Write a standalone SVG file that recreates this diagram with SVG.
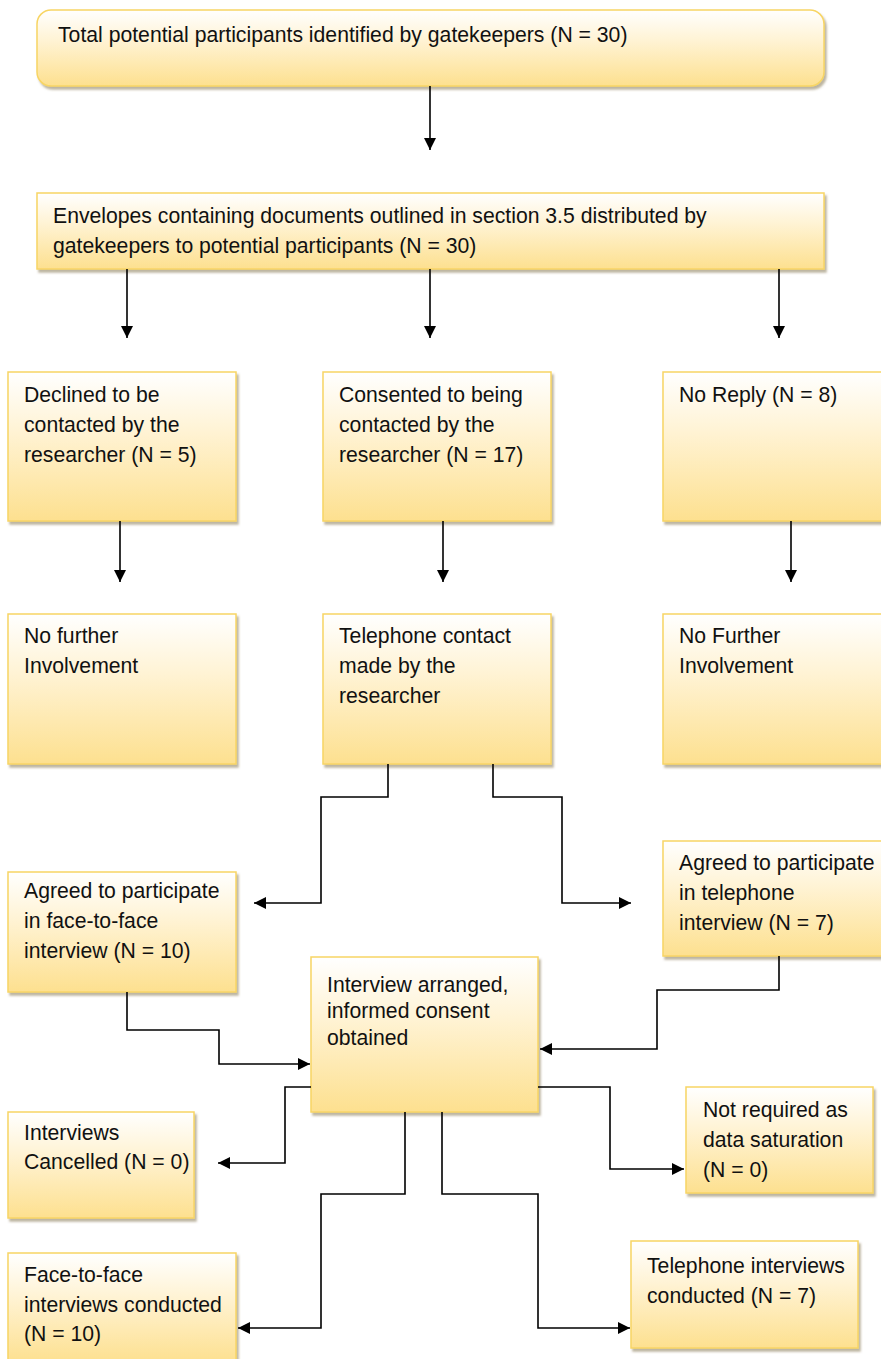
<svg xmlns="http://www.w3.org/2000/svg" width="881" height="1359" viewBox="0 0 881 1359">
<defs>
<linearGradient id="g" x1="0" y1="0" x2="0" y2="1">
<stop offset="0" stop-color="#ffffff"/>
<stop offset="0.4" stop-color="#fff3d4"/>
<stop offset="1" stop-color="#fde08f"/>
</linearGradient>
<filter id="sh" x="-5%" y="-5%" width="115%" height="115%">
<feDropShadow dx="2" dy="3" stdDeviation="1.2" flood-color="#7a6a40" flood-opacity="0.5"/>
</filter>
<marker id="ah" markerUnits="userSpaceOnUse" markerWidth="12" markerHeight="12" refX="12" refY="6" orient="auto">
<path d="M0,0 L12,6 L0,12 z" fill="#000"/>
</marker>
</defs>
<style>
.box{fill:url(#g);stroke:#f8d564;stroke-width:1.5;filter:url(#sh)}
.t{font-family:"Liberation Sans",Arial,sans-serif;font-size:21.2px;fill:#111}
.c{fill:none;stroke:#000;stroke-width:1.6;marker-end:url(#ah)}
</style>
<rect width="881" height="1359" fill="#fff"/>

<g id="n1"><rect class="box" x="37" y="10" width="787" height="76" rx="14"/>
<text class="t" x="58" y="42">Total potential participants identified by gatekeepers (N = 30)</text></g>

<g id="n2"><rect class="box" x="37" y="193" width="787" height="76"/>
<text class="t" x="53" y="223">Envelopes containing documents outlined in section 3.5 distributed by</text>
<text class="t" x="53" y="253">gatekeepers to potential participants (N = 30)</text></g>

<g id="n3"><rect class="box" x="8" y="372" width="228" height="149"/>
<text class="t" x="24" y="402">Declined to be</text>
<text class="t" x="24" y="432">contacted by the</text>
<text class="t" x="24" y="462">researcher (N = 5)</text></g>

<g id="n4"><rect class="box" x="323" y="372" width="228" height="149"/>
<text class="t" x="339" y="402">Consented to being</text>
<text class="t" x="339" y="432">contacted by the</text>
<text class="t" x="339" y="462">researcher (N = 17)</text></g>

<g id="n5"><rect class="box" x="663" y="372" width="228" height="149"/>
<text class="t" x="679" y="402">No Reply (N = 8)</text></g>

<g id="n6"><rect class="box" x="8" y="614" width="228" height="150"/>
<text class="t" x="24" y="643">No further</text>
<text class="t" x="24" y="673">Involvement</text></g>

<g id="n7"><rect class="box" x="323" y="614" width="228" height="150"/>
<text class="t" x="339" y="643">Telephone contact</text>
<text class="t" x="339" y="673">made by the</text>
<text class="t" x="339" y="703">researcher</text></g>

<g id="n8"><rect class="box" x="663" y="614" width="228" height="150"/>
<text class="t" x="679" y="643">No Further</text>
<text class="t" x="679" y="673">Involvement</text></g>

<g id="n9"><rect class="box" x="8" y="872" width="228" height="120"/>
<text class="t" x="24" y="898">Agreed to participate</text>
<text class="t" x="24" y="928">in face-to-face</text>
<text class="t" x="24" y="958">interview (N = 10)</text></g>

<g id="n10"><rect class="box" x="663" y="841" width="228" height="115"/>
<text class="t" x="679" y="870">Agreed to participate</text>
<text class="t" x="679" y="900">in telephone</text>
<text class="t" x="679" y="930">interview (N = 7)</text></g>

<g id="n11"><rect class="box" x="311" y="957" width="227" height="155"/>
<text class="t" x="327" y="992">Interview arranged,</text>
<text class="t" x="327" y="1018">informed consent</text>
<text class="t" x="327" y="1045">obtained</text></g>

<g id="n12"><rect class="box" x="8" y="1112" width="186" height="106"/>
<text class="t" x="24" y="1140">Interviews</text>
<text class="t" x="24" y="1169">Cancelled (N = 0)</text></g>

<g id="n13"><rect class="box" x="686" y="1087" width="187" height="106"/>
<text class="t" x="703" y="1117">Not required as</text>
<text class="t" x="703" y="1147">data saturation</text>
<text class="t" x="703" y="1177">(N = 0)</text></g>

<g id="n14"><rect class="box" x="8" y="1253" width="228" height="110"/>
<text class="t" x="24" y="1282">Face-to-face</text>
<text class="t" x="24" y="1312">interviews conducted</text>
<text class="t" x="24" y="1341">(N = 10)</text></g>

<g id="n15"><rect class="box" x="631" y="1241" width="227" height="107"/>
<text class="t" x="647" y="1273">Telephone interviews</text>
<text class="t" x="647" y="1303">conducted (N = 7)</text></g>

<g id="connectors">
<path class="c" d="M430,86 V150"/>
<path class="c" d="M127,269 V338"/>
<path class="c" d="M430,269 V338"/>
<path class="c" d="M779,269 V338"/>
<path class="c" d="M120,521 V582"/>
<path class="c" d="M443,521 V582"/>
<path class="c" d="M791,521 V582"/>
<path class="c" d="M388,764 V797 H321 V903 H254"/>
<path class="c" d="M493,764 V797 H562 V903 H631"/>
<path class="c" d="M127,992 V1030 H219 V1064 H310"/>
<path class="c" d="M779,956 V990 H657 V1049 H540"/>
<path class="c" d="M311,1087 H285 V1163 H218"/>
<path class="c" d="M538,1087 H610 V1169 H684"/>
<path class="c" d="M405,1112 V1194 H321 V1328 H238"/>
<path class="c" d="M442,1112 V1194 H538 V1328 H630"/>
</g>
</svg>
